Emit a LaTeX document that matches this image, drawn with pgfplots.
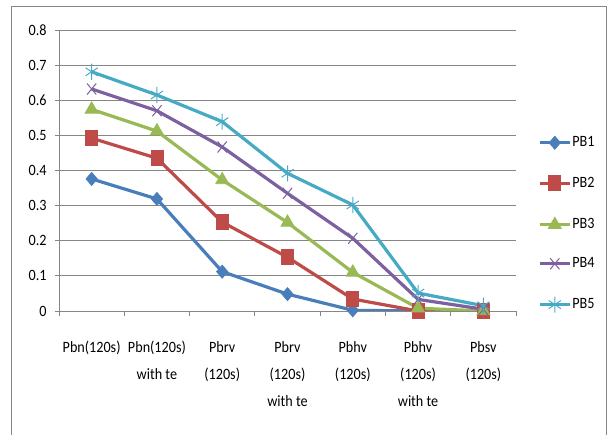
\documentclass[border=0pt]{standalone}
\usepackage{fontspec}
\setmainfont{Carlito}[FakeStretch=0.9]
\usepackage{pgfplots}
\pgfplotsset{compat=1.18}
\definecolor{cA}{HTML}{4A7EBB}
\definecolor{cB}{HTML}{BE4B48}
\definecolor{cC}{HTML}{98B954}
\definecolor{cD}{HTML}{7D60A0}
\definecolor{cE}{HTML}{46AAC5}
\definecolor{gridc}{HTML}{868686}
\begin{document}
\fontsize{15.8}{27}\selectfont
\begin{tikzpicture}[x=1bp,y=1bp]
\path[use as bounding box] (0,0) rectangle (609,435);
\draw[gridc, line width=0.9bp] (11,0) -- (11,429) -- (606.5,429) -- (606.5,0);
\begin{axis}[
  at={(59bp,124bp)}, anchor=south west,
  width=457bp, height=281bp, scale only axis,
  xmin=-0.5, xmax=6.5, ymin=0, ymax=0.8,
  axis lines*=left,
  axis line style={gridc, line width=0.9bp},
  ytick={0,0.1,...,0.8},
  yticklabels={0,0.1,0.2,0.3,0.4,0.5,0.6,0.7,0.8},
  ymajorgrids, grid style={gridc, line width=0.9bp},
  xtick={0,...,6},
  xticklabels={{Pbn(120s)},{Pbn(120s)\\with te},{Pbrv\\(120s)},{Pbrv\\(120s)\\with te},{Pbhv\\(120s)},{Pbhv\\(120s)\\with te},{Pbsv\\(120s)}},
  minor xtick={-0.5,0.5,...,6.5},
  major x tick style={draw=none},
  tick style={gridc, line width=0.9bp},
  tick align=outside,
  major tick length=4bp, minor tick length=5bp,
  xticklabel style={align=center, font=\fontsize{15.8}{27}\selectfont, yshift=-21bp},
  yticklabel style={font=\fontsize{15.8}{27}\selectfont, xshift=-3bp},
  /pgf/number format/assume math mode=true,
  legend style={at={(1.0416,0.308)}, anchor=west, draw=none, fill=none,
    font=\fontsize{15.8}{27}\selectfont, row sep=26.5bp,
    nodes={inner xsep=1bp, inner ysep=0bp}},
  legend cell align=left,
  legend image code/.code={\draw[mark repeat=2,mark phase=2,#1] plot coordinates {(0bp,0bp)(15bp,0bp)(30bp,0bp)};},
  every axis plot/.append style={line width=3.2bp},
]
\addplot[cA, mark=diamond*, mark size=6.5bp, mark options={line width=0.8bp, xscale=1.15}] coordinates {(0,0.376)(1,0.319)(2,0.112)(3,0.048)(4,0.002)(5,0.0)(6,0.0)};
\addlegendentry{PB1}
\addplot[cB, mark=square*, mark size=6bp, mark options={line width=0.8bp, yscale=1.25}] coordinates {(0,0.492)(1,0.435)(2,0.253)(3,0.153)(4,0.034)(5,0.0)(6,0.0)};
\addlegendentry{PB2}
\addplot[cC, mark=triangle*, mark size=7.5bp, mark options={line width=0.8bp}] coordinates {(0,0.574)(1,0.512)(2,0.373)(3,0.252)(4,0.110)(5,0.008)(6,0.0)};
\addlegendentry{PB3}
\addplot[cD, mark=x, mark size=6.5bp, mark options={line width=1bp, yscale=1.2}] coordinates {(0,0.632)(1,0.570)(2,0.467)(3,0.335)(4,0.207)(5,0.033)(6,0.005)};
\addlegendentry{PB4}
\addplot[cE, mark=asterisk, mark size=7bp, mark options={line width=1bp, yscale=1.15}] coordinates {(0,0.681)(1,0.615)(2,0.539)(3,0.392)(4,0.302)(5,0.051)(6,0.015)};
\addlegendentry{PB5}
\end{axis}
\end{tikzpicture}
\end{document}
